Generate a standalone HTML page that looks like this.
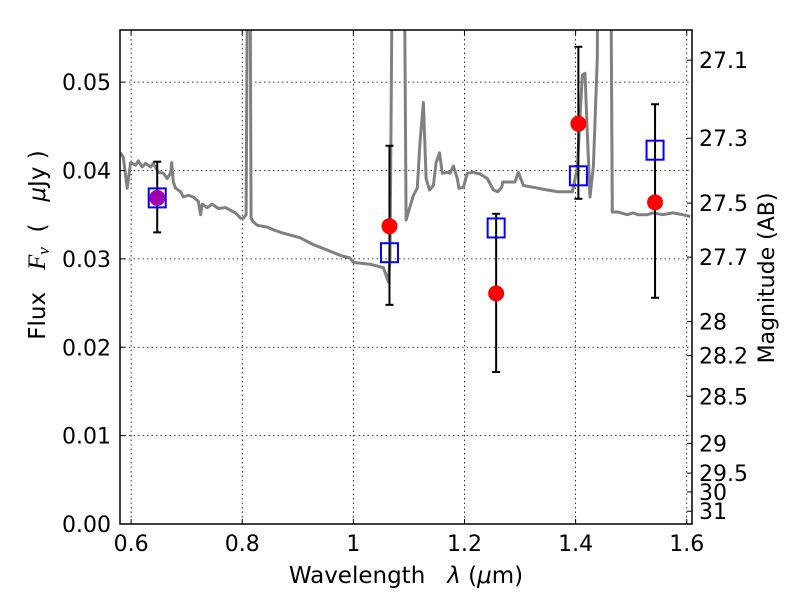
<!DOCTYPE html>
<html><head><meta charset="utf-8"><style>
html,body{margin:0;padding:0;background:#fff;}
svg{display:block;font-family:"DejaVu Sans","Liberation Sans",sans-serif;}
</style></head><body>
<svg id="chart" width="800" height="600" viewBox="0 0 800 600" xmlns="http://www.w3.org/2000/svg">
<rect x="0" y="0" width="800" height="600" fill="#fff"/>
<g id="grid"></g>
<g id="plot"></g>
<g id="axes"></g>
<text x="406" y="583" font-size="23" text-anchor="middle">Wavelength&#160;&#160;&#160;<tspan font-style="italic">λ</tspan> (<tspan font-style="italic">μ</tspan>m)</text>
<text transform="translate(45,245) rotate(-90)" font-size="23" text-anchor="middle">Flux&#160;&#160;&#160;<tspan font-family="Liberation Serif" font-style="italic" font-size="25">F<tspan font-size="17" dy="4">ν</tspan></tspan><tspan dy="-4">&#160;&#160;(&#160;&#160;&#160;</tspan><tspan font-style="italic">μ</tspan>Jy )</text>
<text transform="translate(774,278) rotate(-90)" font-size="22" text-anchor="middle">Magnitude (AB)</text>
</svg>
<script>
const specWl = [0.581,0.586,0.593,0.599,0.608,0.613,0.620,0.626,0.635,0.640,0.649,0.658,0.665,0.671,0.673,0.676,0.680,0.689,0.694,0.703,0.712,0.721,0.725,0.728,0.737,0.746,0.757,0.770,0.779,0.788,0.797,0.802,0.807,0.811,0.813,0.816,0.820,0.827,0.845,0.856,0.869,0.904,0.928,0.953,0.976,0.994,1.000,1.030,1.054,1.061,1.063,1.066,1.072,1.090,1.095,1.099,1.108,1.115,1.120,1.126,1.131,1.137,1.144,1.149,1.155,1.160,1.169,1.174,1.180,1.187,1.190,1.198,1.205,1.216,1.228,1.241,1.252,1.260,1.267,1.269,1.281,1.291,1.297,1.306,1.324,1.349,1.367,1.385,1.394,1.396,1.403,1.412,1.417,1.421,1.426,1.432,1.439,1.441,1.462,1.466,1.476,1.493,1.503,1.512,1.529,1.539,1.557,1.575,1.593,1.606];
const specFlux = [0.0420,0.0415,0.0380,0.0409,0.0406,0.0411,0.0404,0.0408,0.0404,0.0408,0.0398,0.0397,0.0391,0.0397,0.0409,0.0387,0.0380,0.0376,0.0370,0.0372,0.0370,0.0365,0.0350,0.0362,0.0358,0.0362,0.0357,0.0358,0.0355,0.0352,0.0346,0.0346,0.0350,0.0800,0.0800,0.0346,0.0342,0.0338,0.0336,0.0333,0.0330,0.0324,0.0316,0.0310,0.0304,0.0301,0.0296,0.0294,0.0290,0.0278,0.0274,0.0301,0.0800,0.0800,0.0344,0.0353,0.0372,0.0380,0.0432,0.0477,0.0391,0.0378,0.0383,0.0409,0.0420,0.0397,0.0398,0.0397,0.0405,0.0391,0.0380,0.0381,0.0397,0.0398,0.0396,0.0391,0.0378,0.0376,0.0381,0.0387,0.0387,0.0387,0.0398,0.0383,0.0381,0.0378,0.0376,0.0376,0.0376,0.0381,0.0403,0.0508,0.0510,0.0443,0.0370,0.0405,0.0527,0.0800,0.0800,0.0353,0.0353,0.0350,0.0352,0.0350,0.0350,0.0352,0.0350,0.0352,0.0350,0.0348];
const obsWl = [0.647,1.065,1.257,1.405,1.543];
const obsFlux = [0.0369,0.0337,0.0261,0.0453,0.0364];
const errLo = [0.0330,0.0248,0.0172,0.0368,0.0256];
const errHi = [0.0410,0.0428,0.0351,0.0540,0.0475];
const modelFlux = [0.0369,0.0307,0.0335,0.0394,0.0423];
const xTicks = [0.6,0.8,1.0,1.2,1.4,1.6];
const xTickLabels = ["0.6","0.8","1","1.2","1.4","1.6"];
const yTicks = [0,0.01,0.02,0.03,0.04,0.05];
const yTickLabels = ["0.00","0.01","0.02","0.03","0.04","0.05"];
const magTicks = [27.1,27.3,27.5,27.7,28,28.2,28.5,29,29.5,30,31];
const magTickLabels = ["27.1","27.3","27.5","27.7","28","28.2","28.5","29","29.5","30","31"];

const L=120,R=692,T=30,B=524;
const xMin=0.58,xMax=1.6095,yMin=0,yMax=0.0559;
const sx=v=>L+(v-xMin)/(xMax-xMin)*(R-L);
const sy=v=>B-(v-yMin)/(yMax-yMin)*(B-T);
const magToFlux=m=>Math.pow(10,(23.9-m)/2.5);
const NS="http://www.w3.org/2000/svg";
function mk(tag,attrs,parent){const e=document.createElementNS(NS,tag);for(const k in attrs)e.setAttribute(k,attrs[k]);parent.appendChild(e);return e;}
const grid=document.getElementById('grid'),plot=document.getElementById('plot'),axes=document.getElementById('axes');

const cp=mk('clipPath',{id:'clip'},plot);
mk('rect',{x:L,y:T,width:R-L,height:B-T},cp);

xTicks.forEach((v,i)=>{
  const x=sx(v);
  const g=mk('line',{x1:x,x2:x,y1:T,y2:B,stroke:'#000','stroke-width':0.8,'stroke-dasharray':'1.5,3'},grid);
  
  
  mk('line',{x1:x,x2:x,y1:B,y2:B-5,stroke:'#000'},axes);
  mk('line',{x1:x,x2:x,y1:T,y2:T+5,stroke:'#000'},axes);
  const t=mk('text',{x:x,y:B+27,'font-size':22,'text-anchor':'middle'},axes);
  t.textContent=xTickLabels[i];
  
  
});
yTicks.forEach((v,i)=>{
  const y=sy(v);
  const g=mk('line',{x1:L,x2:R,y1:y,y2:y,stroke:'#000','stroke-width':0.8,'stroke-dasharray':'1.5,3'},grid);
  
  
  mk('line',{x1:L,x2:L+5,y1:y,y2:y,stroke:'#000'},axes);
  const t=mk('text',{x:L-9,y:y+8,'font-size':22,'text-anchor':'end'},axes);
  t.textContent=yTickLabels[i];
  
  
});
magTicks.forEach((m,i)=>{
  const y=sy(magToFlux(m));
  mk('line',{x1:R,x2:R-5,y1:y,y2:y,stroke:'#000'},axes);
  const t=mk('text',{x:R+7,y:y+8,'font-size':22,'text-anchor':'start'},axes);
  t.textContent=magTickLabels[i];
  
  
});

const sp=mk('polyline',{points:specWl.map((w,i)=>sx(w).toFixed(1)+','+sy(specFlux[i]).toFixed(1)).join(' '),fill:'none',stroke:'#808080','stroke-width':3,'stroke-linejoin':'round','clip-path':'url(#clip)'},plot);



obsWl.forEach((w,i)=>{
  const x=sx(w);
  const e=mk('g',{},plot);
  
  
  mk('line',{x1:x,x2:x,y1:sy(errLo[i]),y2:sy(errHi[i]),stroke:'#000','stroke-width':2},e);
  mk('line',{x1:x-4,x2:x+4,y1:sy(errLo[i]),y2:sy(errLo[i]),stroke:'#000','stroke-width':2},e);
  mk('line',{x1:x-4,x2:x+4,y1:sy(errHi[i]),y2:sy(errHi[i]),stroke:'#000','stroke-width':2},e);
  const sq=mk('rect',{x:x-8.5,y:sy(modelFlux[i])-9.5,width:17,height:19,fill:'none',stroke:'#0000ff','stroke-width':2},plot);
  
  
  const c=mk('circle',{cx:x,cy:sy(obsFlux[i]),r:8,fill:i===0?'#a000b0':'#ff0000'},plot);
  
  
});

const fr=mk('rect',{x:L,y:T,width:R-L,height:B-T,fill:'none',stroke:'#000','stroke-width':1.5},axes);


</script>
</body></html>
